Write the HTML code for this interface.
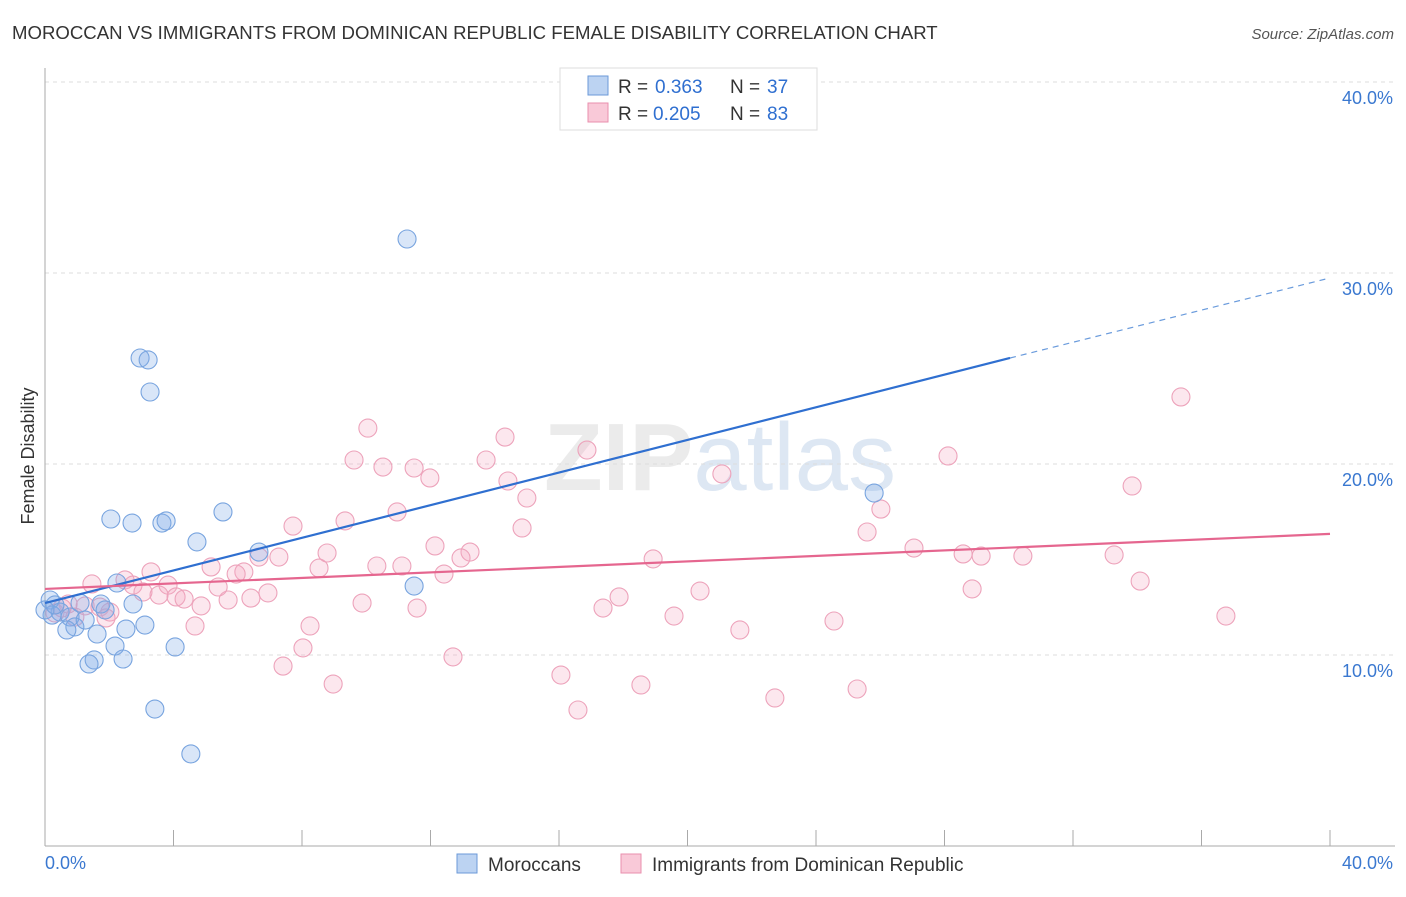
<!DOCTYPE html>
<html><head><meta charset="utf-8"><style>
body{margin:0;background:#fff;font-family:"Liberation Sans",sans-serif}
svg text{font-family:"Liberation Sans",sans-serif}
</style></head><body>
<svg width="1406" height="892" viewBox="0 0 1406 892">
<text x="12" y="39" font-size="18.6" fill="#333">MOROCCAN VS IMMIGRANTS FROM DOMINICAN REPUBLIC FEMALE DISABILITY CORRELATION CHART</text>
<text x="1394" y="39" font-size="15" fill="#555" text-anchor="end" font-style="italic">Source: ZipAtlas.com</text>
<text x="720" y="490" font-size="96" fill="#ebebeb" text-anchor="middle" font-family="Liberation Serif"><tspan font-weight="bold">ZIP</tspan><tspan font-family="Liberation Sans" fill="#dde7f3">atlas</tspan></text>
<g id="grid"></g>
<g id="axes"></g>
<g id="marks"></g>
<text transform="translate(34,456) rotate(-90)" font-size="18" fill="#333" text-anchor="middle">Female Disability</text>
<g>
<rect x="560" y="68" width="257" height="62" fill="#fff" stroke="#ddd"/>
<rect x="588" y="76" width="20" height="19" fill="#bcd3f2" stroke="#6b9ad8"/>
<rect x="588" y="103" width="20" height="19" fill="#f9c9d8" stroke="#e98fae"/>
<text x="618" y="93" font-size="19" fill="#333">R =</text><text x="655" y="93" font-size="19" fill="#2f6fd0">0.363</text>
<text x="730" y="93" font-size="19" fill="#333">N =</text><text x="767" y="93" font-size="19" fill="#2f6fd0">37</text>
<text x="618" y="120" font-size="19" fill="#333">R =</text><text x="653" y="120" font-size="19" fill="#2f6fd0">0.205</text>
<text x="730" y="120" font-size="19" fill="#333">N =</text><text x="767" y="120" font-size="19" fill="#2f6fd0">83</text>
</g>
<g>
<rect x="457" y="854" width="20" height="19" fill="#bcd3f2" stroke="#6b9ad8"/>
<text x="488" y="871" font-size="19" fill="#333">Moroccans</text>
<rect x="621" y="854" width="20" height="19" fill="#f9c9d8" stroke="#e98fae"/>
<text x="652" y="871" font-size="19" fill="#333">Immigrants from Dominican Republic</text>
</g>
</svg>
<script>
const xTicks=[0,4,8,12,16,20,24,28,32,36,40];
const yTicks=[10,20,30,40];
const yTickLabels=["10.0%","20.0%","30.0%","40.0%"];
const xEndLabels=["0.0%","40.0%"];
const blueX=[11.27,2.96,3.21,3.27,2.05,2.71,3.64,3.77,5.54,4.73,6.66,25.81,2.24,11.49,2.74,1.74,1.09,0.16,0.47,0.22,0.78,0.93,0.68,3.11,2.52,1.62,2.18,4.05,1.53,1.37,2.43,3.42,4.54,0,0.31,1.25,1.87];
const blueY=[31.78,25.55,25.45,23.77,17.12,16.91,16.91,17.02,17.49,15.92,15.39,18.48,13.77,13.61,12.67,12.67,12.72,12.88,12.25,12.09,11.99,11.47,11.31,11.57,11.36,11.10,10.47,10.42,9.74,9.53,9.79,7.17,4.82,12.36,12.62,11.83,12.36];
const pinkX=[35.36,10.05,14.32,16.87,28.11,9.62,13.73,10.52,11.49,21.07,11.98,14.41,33.84,15.00,26.02,10.96,7.72,9.34,14.85,25.59,27.05,12.14,13.23,8.78,6.66,7.28,12.95,18.93,28.58,29.14,30.44,33.28,5.17,10.33,11.11,8.53,3.30,6.19,5.95,12.42,2.49,1.46,2.74,3.83,5.39,34.09,28.86,3.05,3.55,6.94,4.08,4.33,5.70,6.41,20.39,17.87,4.86,9.87,17.37,11.58,0.72,1.25,1.71,2.02,1.90,0.93,0.31,19.58,36.76,24.56,4.67,8.25,21.63,8.03,7.41,12.70,16.06,8.97,18.55,25.28,22.72,16.59,0.53];
const pinkY=[23.51,21.88,21.41,20.73,20.42,20.21,20.21,19.84,19.79,19.48,19.27,19.11,18.85,18.22,17.64,17.49,16.75,17.02,16.65,16.44,15.60,15.71,15.39,15.34,15.13,15.13,15.08,15.03,15.29,15.18,15.18,15.24,14.61,14.66,14.66,14.55,14.35,14.35,14.24,14.24,13.93,13.72,13.66,13.66,13.56,13.87,13.46,13.30,13.14,13.25,13.04,12.93,12.88,12.98,13.35,13.04,12.57,12.72,12.46,12.46,12.67,12.57,12.51,12.25,11.94,11.99,12.20,12.04,12.04,11.78,11.52,11.52,11.31,10.37,9.42,9.90,8.95,8.48,8.43,8.22,7.75,7.12,12.46];
const blueTrend=[[0,12.72],[30.04,25.55],[40,29.74]];
const pinkTrend=[[0,13.46],[40,16.34]];
const NS="http://www.w3.org/2000/svg";
const xs=v=>45+v*32.125, ys=v=>846-v*19.1;
function mk(tag,attrs,parent){const e=document.createElementNS(NS,tag);for(const k in attrs)e.setAttribute(k,attrs[k]);document.getElementById(parent).appendChild(e);return e;}
yTicks.forEach((t,i)=>{
 const g=mk('line',{x1:45,x2:1395,y1:ys(t),y2:ys(t),stroke:'#ddd','stroke-dasharray':'4,4'},'grid');
 
 
 const l=mk('text',{x:1393,y:ys(t)+22,'font-size':18,fill:'#3a78d0','text-anchor':'end'},'axes');
 l.textContent=yTickLabels[i];
 
 
});
mk('line',{x1:45,x2:45,y1:68,y2:846,stroke:'#aaa'},'axes');
mk('line',{x1:45,x2:1395,y1:846,y2:846,stroke:'#aaa'},'axes');
xTicks.forEach(t=>{
 const tk=mk('line',{x1:xs(t),x2:xs(t),y1:830,y2:846,stroke:'#aaa'},'axes');
 
 
});
const xl0=mk('text',{x:45,y:869,'font-size':18,fill:'#3a78d0'},'axes');xl0.textContent=xEndLabels[0];


const xl1=mk('text',{x:1393,y:869,'font-size':18,fill:'#3a78d0','text-anchor':'end'},'axes');xl1.textContent=xEndLabels[1];


pinkX.forEach((x,i)=>{
 const c=mk('circle',{cx:xs(x),cy:ys(pinkY[i]),r:9,fill:'rgba(244,170,195,0.28)',stroke:'#eda3bb','stroke-width':1.1},'marks');
 
 
});
blueX.forEach((x,i)=>{
 const c=mk('circle',{cx:xs(x),cy:ys(blueY[i]),r:9,fill:'rgba(130,172,232,0.3)',stroke:'#78a4df','stroke-width':1.1},'marks');
 
 
});
const bt1=mk('line',{x1:xs(blueTrend[0][0]),y1:ys(blueTrend[0][1]),x2:xs(blueTrend[1][0]),y2:ys(blueTrend[1][1]),stroke:'#2f6fd0','stroke-width':2.2},'marks');


const bt2=mk('line',{x1:xs(blueTrend[1][0]),y1:ys(blueTrend[1][1]),x2:xs(blueTrend[2][0]),y2:ys(blueTrend[2][1]),stroke:'#6a9bdc','stroke-width':1.2,'stroke-dasharray':'6,5'},'marks');


const pt=mk('line',{x1:xs(pinkTrend[0][0]),y1:ys(pinkTrend[0][1]),x2:xs(pinkTrend[1][0]),y2:ys(pinkTrend[1][1]),stroke:'#e5668f','stroke-width':2.2},'marks');


</script>
</body></html>
